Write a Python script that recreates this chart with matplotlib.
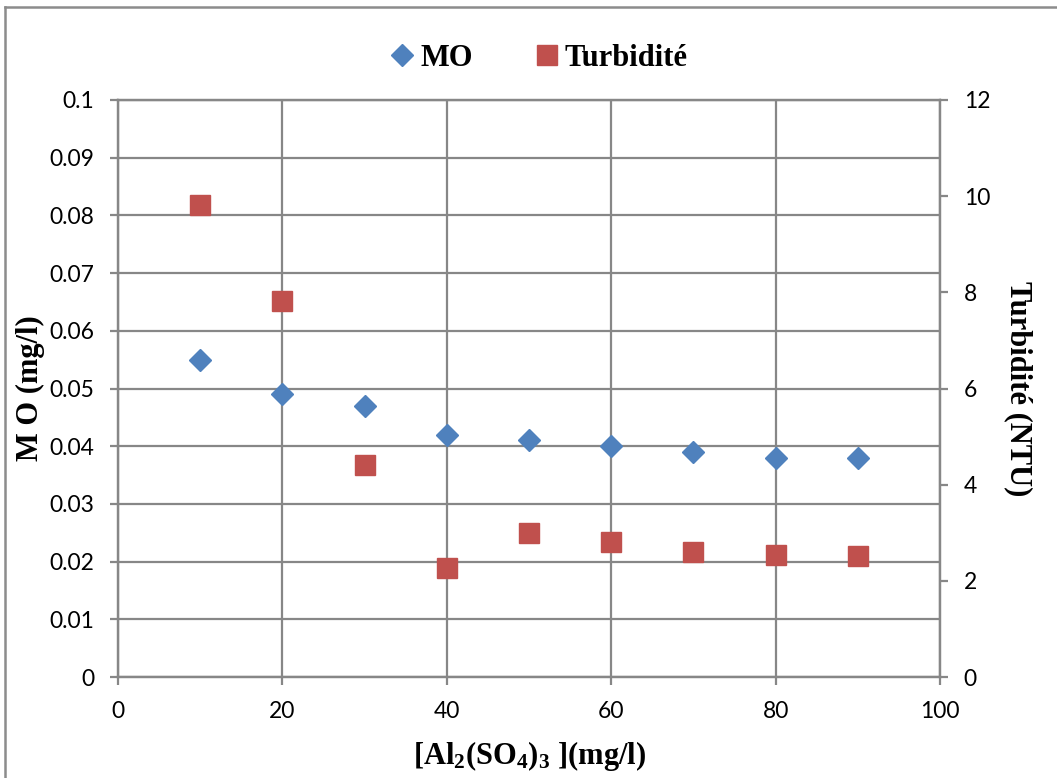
#!/usr/bin/env python3
import matplotlib
matplotlib.use("Agg")
import matplotlib.pyplot as plt
from matplotlib.lines import Line2D

# dose of aluminium sulphate (mg/l)
dose = [10, 20, 30, 40, 50, 60, 70, 80, 90]
# organic matter (mg/l), left axis
mo = [0.055, 0.049, 0.047, 0.042, 0.041, 0.040, 0.039, 0.038, 0.038]
# turbidity (NTU), right axis
turbidite = [9.82, 7.82, 4.41, 2.27, 3.0, 2.8, 2.6, 2.54, 2.52]

blue = "#4F81BD"
red = "#C0504D"
grid_c = "#878787"

plt.rcParams["font.family"] = ["Lato", "DejaVu Sans"]
plt.rcParams["mathtext.fontset"] = "custom"
plt.rcParams["mathtext.rm"] = "Liberation Serif:bold"
plt.rcParams["mathtext.it"] = "Liberation Serif:bold"
plt.rcParams["mathtext.bf"] = "Liberation Serif:bold"

fig = plt.figure(figsize=(10.57, 7.78), dpi=100)
ax = fig.add_axes([118 / 1057, 1 - 677 / 778, 822 / 1057, 577 / 778])
ax2 = ax.twinx()

ax.set_xlim(0, 100)
ax.set_ylim(0, 0.1)
ax2.set_ylim(0, 12)
ax.set_xticks(range(0, 101, 20))
ax.set_yticks([i / 100 for i in range(11)])
ax.set_yticklabels(["0"] + ["%g" % (i / 100) for i in range(1, 11)])
ax2.set_yticks(range(0, 13, 2))

ax.grid(True, color=grid_c, linewidth=1.6)
ax.set_axisbelow(True)
for a in (ax, ax2):
    for s in a.spines.values():
        s.set_color(grid_c)
        s.set_linewidth(1.6)
    a.tick_params(colors=grid_c, labelcolor="black", labelsize=16.5,
                  width=1.6, length=6, pad=11)

ax.plot(dose, mo, linestyle="none", marker="D", markersize=11.5,
        color=blue, zorder=3, clip_on=False)
ax2.plot(dose, turbidite, linestyle="none", marker="s", markersize=14,
         color=red, zorder=3, clip_on=False)

serif = {"family": "Liberation Serif", "weight": "bold", "size": 22}
ax.set_ylabel("M O (mg/l)", fontdict=serif, va="center")
ax.yaxis.set_label_coords(-0.107, 0.5)
ax2.set_ylabel("Turbidité (NTU)", fontdict=serif, rotation=-90, va="center")
ax2.yaxis.set_label_coords(1.095, 0.5)
ax.set_xlabel(r"[Al$_2$(SO$_4$)$_3$ ](mg/l)", fontdict=serif, va="center")
ax.xaxis.set_label_coords(0.501, -0.137)

handles = [
    Line2D([], [], linestyle="none", marker="D", markersize=11.5, color=blue),
    Line2D([], [], linestyle="none", marker="s", markersize=14, color=red),
]
fig.legend(handles, ["MO", "Turbidité"], loc="center",
           bbox_to_anchor=(0.51, 0.925), ncol=2, frameon=False,
           prop={"family": "Liberation Serif", "weight": "bold", "size": 22},
           handlelength=0.8, handletextpad=0.2, columnspacing=2.0)

# chart area border (left and top edges)
fig.add_artist(Line2D([5 / 1057, 5 / 1057], [0, 1 - 7 / 778],
                      transform=fig.transFigure, color="#8c8c8c", linewidth=1.8))
fig.add_artist(Line2D([5 / 1057, 1], [1 - 7 / 778, 1 - 7 / 778],
                      transform=fig.transFigure, color="#8c8c8c", linewidth=1.8))

fig.savefig("out.png", dpi=100)
